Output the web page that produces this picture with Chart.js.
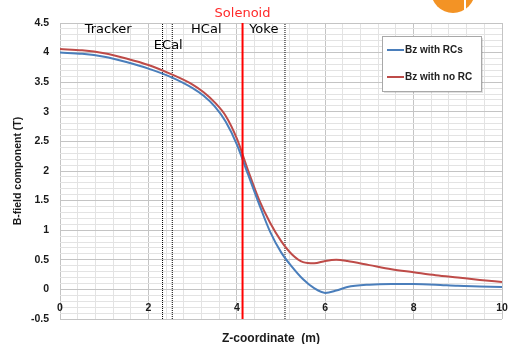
<!DOCTYPE html>
<html>
<head>
<meta charset="utf-8">
<script src="https://cdn.jsdelivr.net/npm/chart.js@4/dist/chart.umd.min.js"></script>
<style>
    html, body { margin: 0; padding: 0; background: #fff; }
</style>
</head>
<body>
<canvas id="bzChart" width="509" height="344"></canvas>
<script>
// z positions (m) where the curves were read
const zPos = [0, 0.5, 1, 1.5, 2, 2.5, 3, 3.25, 3.5, 3.75, 4, 4.25, 4.5, 4.75, 5, 5.25, 5.5, 5.75, 6, 6.25, 6.5, 7, 7.5, 8, 8.5, 9, 9.5, 10];
const bzWithRCs = [4.00, 3.98, 3.93, 3.84, 3.73, 3.59, 3.40, 3.27, 3.09, 2.83, 2.45, 1.95, 1.45, 0.98, 0.63, 0.38, 0.17, 0.02, -0.06, -0.02, 0.04, 0.08, 0.09, 0.09, 0.08, 0.06, 0.05, 0.04];
const bzNoRC = [4.06, 4.04, 3.99, 3.90, 3.79, 3.64, 3.46, 3.33, 3.16, 2.93, 2.55, 2.02, 1.52, 1.13, 0.82, 0.59, 0.46, 0.44, 0.48, 0.50, 0.48, 0.41, 0.34, 0.29, 0.24, 0.20, 0.16, 0.125];

// detector boundaries (m)
const ecalEdges = [2.32, 2.54];
const yokeEdge = 5.09;
const solenoidZ = 4.13;

const xTickLabels = [0, 2, 4, 6, 8, 10];
const yTickLabels = [-0.5, 0, 0.5, 1, 1.5, 2, 2.5, 3, 3.5, 4, 4.5];

const blue = '#4a7ebb';
const red = '#be4b48';
const majorGrid = '#c4c4c4';
const minorGrid = '#e3e3e3';
const isMultiple = (v, step) => Math.abs(v / step - Math.round(v / step)) < 1e-6;
const toXY = ys => zPos.map((z, i) => ({ x: z, y: ys[i] }));
const vline = z => [{ x: z, y: -0.5 }, { x: z, y: 4.5 }];

const tickFont = { family: 'Liberation Sans', size: 10.5, weight: 'bold' };

const annotations = {
    id: 'annotations',
    beforeDraw(chart) {
        const c = chart.ctx;
        c.save();
        c.fillStyle = '#fff';
        c.fillRect(0, 0, chart.width, chart.height);
        c.restore();
    },
    afterDraw(chart) {
        const c = chart.ctx;
        const xs = chart.scales.x, ys = chart.scales.y;
        c.save();
        // region names
        c.font = '13px "DejaVu Sans"';
        c.textAlign = 'center';
        c.textBaseline = 'middle';
        c.fillStyle = '#000';
        c.fillText('Tracker', xs.getPixelForValue(1.09), ys.getPixelForValue(4.39));
        c.fillText('ECal', xs.getPixelForValue(2.45), ys.getPixelForValue(4.11));
        c.fillText('HCal', xs.getPixelForValue(3.31), ys.getPixelForValue(4.39));
        c.fillText('Yoke', xs.getPixelForValue(4.61), ys.getPixelForValue(4.39));
        c.fillStyle = '#ff2a2a';
        c.fillText('Solenoid', xs.getPixelForValue(solenoidZ), ys.getPixelForValue(4.66));

        // x axis title
        c.fillStyle = '#1a1a1a';
        c.font = 'bold 12px "Liberation Sans"';
        c.fillText('Z-coordinate  (m)', 271, 339);

        // legend box
        const lx = 382, ly = 36, lw = 99, lh = 55;
        c.fillStyle = 'rgba(0,0,0,0.12)';
        c.fillRect(lx + 2, ly + 2, lw, lh);
        c.fillStyle = '#fff';
        c.fillRect(lx, ly, lw, lh);
        c.strokeStyle = '#a8a8a8';
        c.lineWidth = 1;
        c.strokeRect(lx + 0.5, ly + 0.5, lw, lh);
        c.font = 'bold 10px "Liberation Sans"';
        c.textAlign = 'left';
        [0, 1].forEach((i, k) => {
            const ds = chart.data.datasets[i];
            const yy = k === 0 ? 50 : 77;
            c.strokeStyle = ds.borderColor;
            c.lineWidth = 2;
            c.beginPath();
            c.moveTo(387, yy);
            c.lineTo(404, yy);
            c.stroke();
            c.fillStyle = '#222';
            c.fillText(ds.label, 405, yy);
        });

        // logo fragment at the top
        c.fillStyle = '#f39325';
        c.beginPath();
        c.arc(453, -9, 22, 0, Math.PI * 2);
        c.fill();
        c.fillStyle = '#fff';
        c.fillRect(464, 0, 2, 14);
        c.restore();
    }
};

new Chart(document.getElementById('bzChart'), {
    type: 'line',
    data: {
        datasets: [
            {
                label: 'Bz with RCs',
                data: toXY(bzWithRCs),
                borderColor: blue,
                borderWidth: 2,
                pointRadius: 0,
                cubicInterpolationMode: 'monotone',
                order: 1
            },
            {
                label: 'Bz with no RC',
                data: toXY(bzNoRC),
                borderColor: red,
                borderWidth: 2,
                pointRadius: 0,
                cubicInterpolationMode: 'monotone',
                order: 2
            },
            {
                label: 'ECal inner',
                data: vline(ecalEdges[0]),
                borderColor: '#000',
                borderWidth: 1,
                borderDash: [1, 1],
                pointRadius: 0,
                order: 3
            },
            {
                label: 'ECal outer',
                data: vline(ecalEdges[1]),
                borderColor: '#000',
                borderWidth: 1,
                borderDash: [1, 1],
                pointRadius: 0,
                order: 3
            },
            {
                label: 'Yoke',
                data: vline(yokeEdge),
                borderColor: '#000',
                borderWidth: 1,
                borderDash: [1, 1],
                pointRadius: 0,
                order: 3
            },
            {
                label: 'Solenoid',
                data: vline(solenoidZ),
                borderColor: '#ff0000',
                borderWidth: 2,
                pointRadius: 0,
                order: 0
            }
        ]
    },
    options: {
        responsive: false,
        animation: false,
        layout: { padding: { top: 23, right: 7, bottom: 0, left: 0 } },
        plugins: {
            legend: { display: false },
            tooltip: { enabled: false }
        },
        scales: {
            x: {
                type: 'linear',
                min: 0,
                max: 10,
                ticks: { display: false, stepSize: 0.4 },
                grid: {
                    drawTicks: false,
                    color: ctx => isMultiple(ctx.tick.value, 2) ? majorGrid : minorGrid
                },
                border: { display: false },
                afterFit: s => { s.height = 25; s.paddingLeft = 0; s.paddingRight = 0; }
            },
            xLabels: {
                type: 'linear',
                axis: 'x',
                position: { y: 0 },
                min: 0,
                max: 10,
                afterBuildTicks: s => { s.ticks = xTickLabels.map(v => ({ value: v })); },
                ticks: { padding: 12, font: tickFont, color: '#1a1a1a', maxRotation: 0, autoSkip: false },
                grid: { display: false, drawTicks: false },
                border: { display: false },
                afterFit: s => { s.paddingLeft = 0; s.paddingRight = 0; }
            },
            y: {
                min: -0.5,
                max: 4.5,
                ticks: {
                    stepSize: 0.1,
                    autoSkip: false,
                    padding: 11,
                    font: tickFont,
                    color: '#1a1a1a',
                    callback: v => yTickLabels.some(t => Math.abs(t - v) < 1e-6) ? String(Math.round(v * 10) / 10) : ''
                },
                grid: {
                    drawTicks: false,
                    color: ctx => isMultiple(ctx.tick.value, 0.5) ? majorGrid : minorGrid
                },
                border: { display: false },
                title: {
                    display: true,
                    text: 'B-field component (T)',
                    font: { family: 'Liberation Sans', size: 10.5, weight: 'bold' },
                    color: '#1a1a1a',
                    padding: { top: 12, bottom: 0 }
                },
                afterFit: s => { s.width = 60; s.paddingTop = 0; s.paddingBottom = 0; }
            }
        }
    },
    plugins: [annotations]
});
</script>
</body>
</html>
